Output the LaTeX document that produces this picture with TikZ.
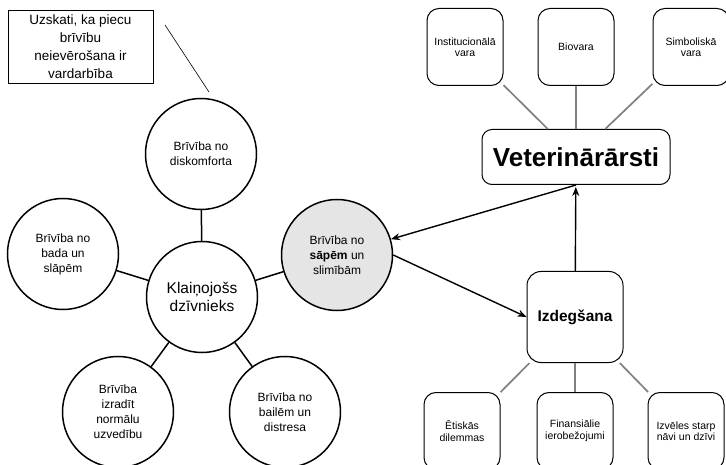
\documentclass[tikz,border=0pt]{standalone}
\usepackage{fontspec}
\setmainfont{Liberation Sans}
\usetikzlibrary{positioning,shadows,arrows.meta}

\begin{document}
\begin{tikzpicture}[x=1pt, y=-1pt,
	circlenode/.style={circle, draw=black, line width=1.5pt, minimum size=111pt, inner sep=0pt, align=center, font=\fontsize{12}{15}\selectfont},
	roundnode/.style={rectangle, rounded corners=12pt, draw=black, line width=1pt, minimum width=76pt, minimum height=77pt, inner sep=2pt, align=center, font=\fontsize{10.5}{11.5}\selectfont},
	notenode/.style={rectangle, draw=black, line width=0.8pt, fill=white, minimum width=145pt, minimum height=73pt, align=center, font=\fontsize{13.5}{18}\selectfont, drop shadow={shadow xshift=1pt, shadow yshift=-1pt, fill=gray!60}},
	greyline/.style={draw=gray, line width=1.7pt},
	arrowline/.style={-{Stealth[length=9pt, width=7pt]}, line width=1.4pt},
	]
	\useasboundingbox (0,0) rectangle (726,465);
	
	%Nodes
	\node[circlenode, font=\fontsize{15.5}{18.5}\selectfont] (dzivnieks) at (202,297) {Klaiņojošs\\dzīvnieks};
	\node[circlenode]       (diskomforts) at (201,154) {Brīvība no\\diskomforta};
	\node[circlenode]       (bads)        at (63,254)  {Brīvība no\\bada un\\slāpēm};
	\node[circlenode, fill=gray!20] (sapes) at (337,255) {Brīvība no\\\textbf{sāpēm} un\\slimībām};
	\node[circlenode]       (uzvediba)    at (118,412) {Brīvība\\izradīt\\normālu\\uzvedību};
	\node[circlenode]       (bailes)      at (285,412) {Brīvība no\\bailēm un\\distresa};
	
	\node[notenode]         (uzskati)     at (80.5,46.5) {Uzskati, ka piecu\\brīvību\\neievērošana ir\\vardarbība};
	\coordinate (uzskatiA) at (165,25);
	\coordinate (uzskatiB) at (209,92);
	
	\node[roundnode, rounded corners=10pt, minimum width=188pt, minimum height=55pt, font=\fontsize{26}{30}\selectfont\bfseries] (vet) at (576,157) {Veterinārārsti};
	\node[roundnode]        (bio)         [above=43pt of vet]  {Biovara};
	\node[roundnode]        (inst)        [left=34pt of bio]   {Institucionālā\\vara};
	\node[roundnode]        (simb)        [right=38pt of bio]  {Simboliskā\\vara};
	
	\node[roundnode, rounded corners=14pt, minimum width=96pt, minimum height=91pt, font=\fontsize{15.5}{18}\selectfont\bfseries] (izdegsana) at (575,317) {Izdegšana};
	\node[roundnode]        (finanses)    [below=29pt of izdegsana] {Finansiālie\\ierobežojumi};
	\node[roundnode]        (etika)       [left=36pt of finanses]   {Ētiskās\\dilemmas};
	\node[roundnode]        (izveles)     [right=34pt of finanses]  {Izvēles starp\\nāvi un dzīvi};
	
	%Lines
	\draw[line width=1.5pt] (dzivnieks) -- (diskomforts);
	\draw[line width=1.5pt] (dzivnieks) -- (bads);
	\draw[line width=1.5pt] (dzivnieks) -- (sapes);
	\draw[line width=1.5pt] (dzivnieks) -- (uzvediba);
	\draw[line width=1.5pt] (dzivnieks) -- (bailes);
	\draw[line width=0.6pt] (uzskatiA) -- (uzskatiB);
	
	\draw[greyline] (inst) -- (vet);
	\draw[greyline] (bio) -- (vet);
	\draw[greyline] (simb) -- (vet);
	\draw[greyline] (izdegsana) -- (etika);
	\draw[greyline] (izdegsana) -- (finanses);
	\draw[greyline] (izdegsana) -- (izveles);
	
	\draw[arrowline] (vet.south) -- (sapes);
	\draw[arrowline] (sapes.east) -- (izdegsana.west);
	\draw[arrowline, shorten >=2pt] (izdegsana) -- (vet);
\end{tikzpicture}
\end{document}
